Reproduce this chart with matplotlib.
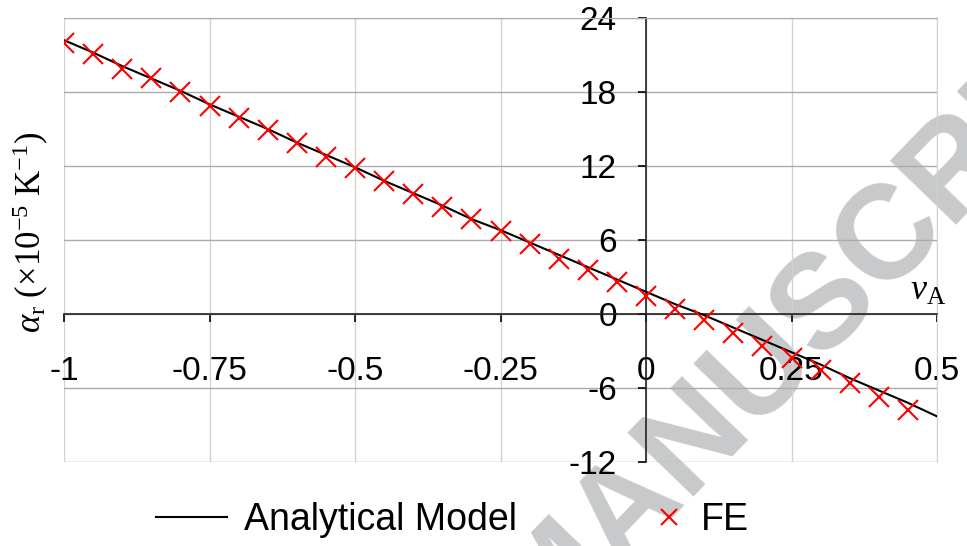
import numpy as np
import matplotlib.pyplot as plt
from matplotlib.lines import Line2D

plt.rcParams['font.family'] = ['Liberation Sans', 'DejaVu Sans']
plt.rcParams['mathtext.fontset'] = 'custom'
plt.rcParams['mathtext.rm'] = 'Liberation Serif'
plt.rcParams['mathtext.it'] = 'Liberation Serif:italic'
plt.rcParams['axes.unicode_minus'] = False

# analytical model curve
nu_model = [-1.0, -0.95, -0.9, -0.85, -0.8, -0.75, -0.7, -0.65, -0.6, -0.55, -0.5,
            -0.45, -0.4, -0.35, -0.3, -0.25, -0.2, -0.15, -0.1, -0.05, 0.0,
            0.05, 0.1, 0.15, 0.2, 0.25, 0.3, 0.35, 0.4, 0.45, 0.5]
alpha_model = [22.2, 21.2, 20.1, 19.1, 18.1, 17.0, 16.0, 15.0, 13.9, 12.9, 11.9,
               10.8, 9.8, 8.8, 7.7, 6.8, 5.8, 4.8, 3.8, 2.8, 1.8,
               0.8, -0.1, -1.1, -2.1, -3.1, -4.1, -5.2, -6.2, -7.2, -8.3]

# FE results
nu_fe = [-1.0, -0.95, -0.9, -0.85, -0.8, -0.75, -0.7, -0.65, -0.6, -0.55, -0.5,
         -0.45, -0.4, -0.35, -0.3, -0.25, -0.2, -0.15, -0.1, -0.05, 0.0,
         0.05, 0.1, 0.15, 0.2, 0.25, 0.3, 0.35, 0.4, 0.45]
alpha_fe = [22.0, 21.1, 19.9, 19.1, 18.0, 16.9, 15.9, 14.9, 13.9, 12.7, 11.8,
            10.8, 9.7, 8.7, 7.7, 6.7, 5.7, 4.5, 3.6, 2.6, 1.5,
            0.4, -0.5, -1.5, -2.6, -3.6, -4.5, -5.6, -6.7, -7.8]

xticks = [-1, -0.75, -0.5, -0.25, 0, 0.25, 0.5]
xticklabels = ['-1', '-0.75', '-0.5', '-0.25', '0', '0.25', '0.5']
yticks = [-12, -6, 0, 6, 12, 18, 24]

fig = plt.figure(figsize=(9.67, 5.46), dpi=100)
ax = fig.add_axes([64/967, 1-462/546, (937-64)/967, (462-18)/546])
ax.patch.set_alpha(0)

# watermark behind the plot
fig.text(825/967, 1-302/546, 'MANUSCRIPT', fontsize=96, fontweight='bold',
         color='#c8c9ca', rotation=46, rotation_mode='anchor',
         ha='center', va='center', zorder=-1)

ax.plot(nu_model, alpha_model, color='black', lw=1.5, zorder=3)
ax.plot(nu_fe, alpha_fe, 'x', color='red', ms=15, mew=1.5, zorder=4)

ax.set_xlim(-1, 0.5)
ax.set_ylim(-12, 24)
ax.set_xticks(xticks)
ax.set_xticklabels(xticklabels)
ax.set_yticks(yticks)
ax.grid(True, axis='x', color='#d2d2d2', lw=1)
ax.grid(True, axis='y', color='#ababab', lw=1)

ax.spines['left'].set_position(('data', 0))
ax.spines['bottom'].set_position(('data', 0))
for s in ['left', 'bottom']:
    ax.spines[s].set_color('#222222')
    ax.spines[s].set_linewidth(1.2)
ax.spines['top'].set_color('#ababab')
ax.spines['right'].set_color('#d2d2d2')
ax.tick_params(axis='x', direction='out', length=6, width=1.2, pad=24, labelsize=24)
ax.tick_params(axis='y', direction='out', length=6, width=1.2, pad=15, labelsize=24)

ax.text(0.485, 0.5, r'$\nu_\mathrm{A}$', fontsize=26, ha='center', va='bottom')
fig.text(31/967, 1-232/546, r'$\alpha_\mathrm{r}$ (×10$^{-5}$ K$^{-1}$)',
         family='Liberation Serif', fontsize=25, rotation=90,
         ha='center', va='center')

h1 = Line2D([], [], color='black', lw=1.5)
h2 = Line2D([], [], ls='', marker='x', color='red', ms=12, mew=1.5)
fig.legend([h1], ['Analytical Model'], loc='center left', bbox_to_anchor=(122/967, 1-520/546),
           frameon=False, fontsize=27, handlelength=1.9, handletextpad=0.45)
fig.legend([h2], ['FE'], loc='center left', bbox_to_anchor=(616/967, 1-520/546),
           frameon=False, fontsize=27, handlelength=1.0, handletextpad=0.35)

fig.savefig('out.png', dpi=100)
